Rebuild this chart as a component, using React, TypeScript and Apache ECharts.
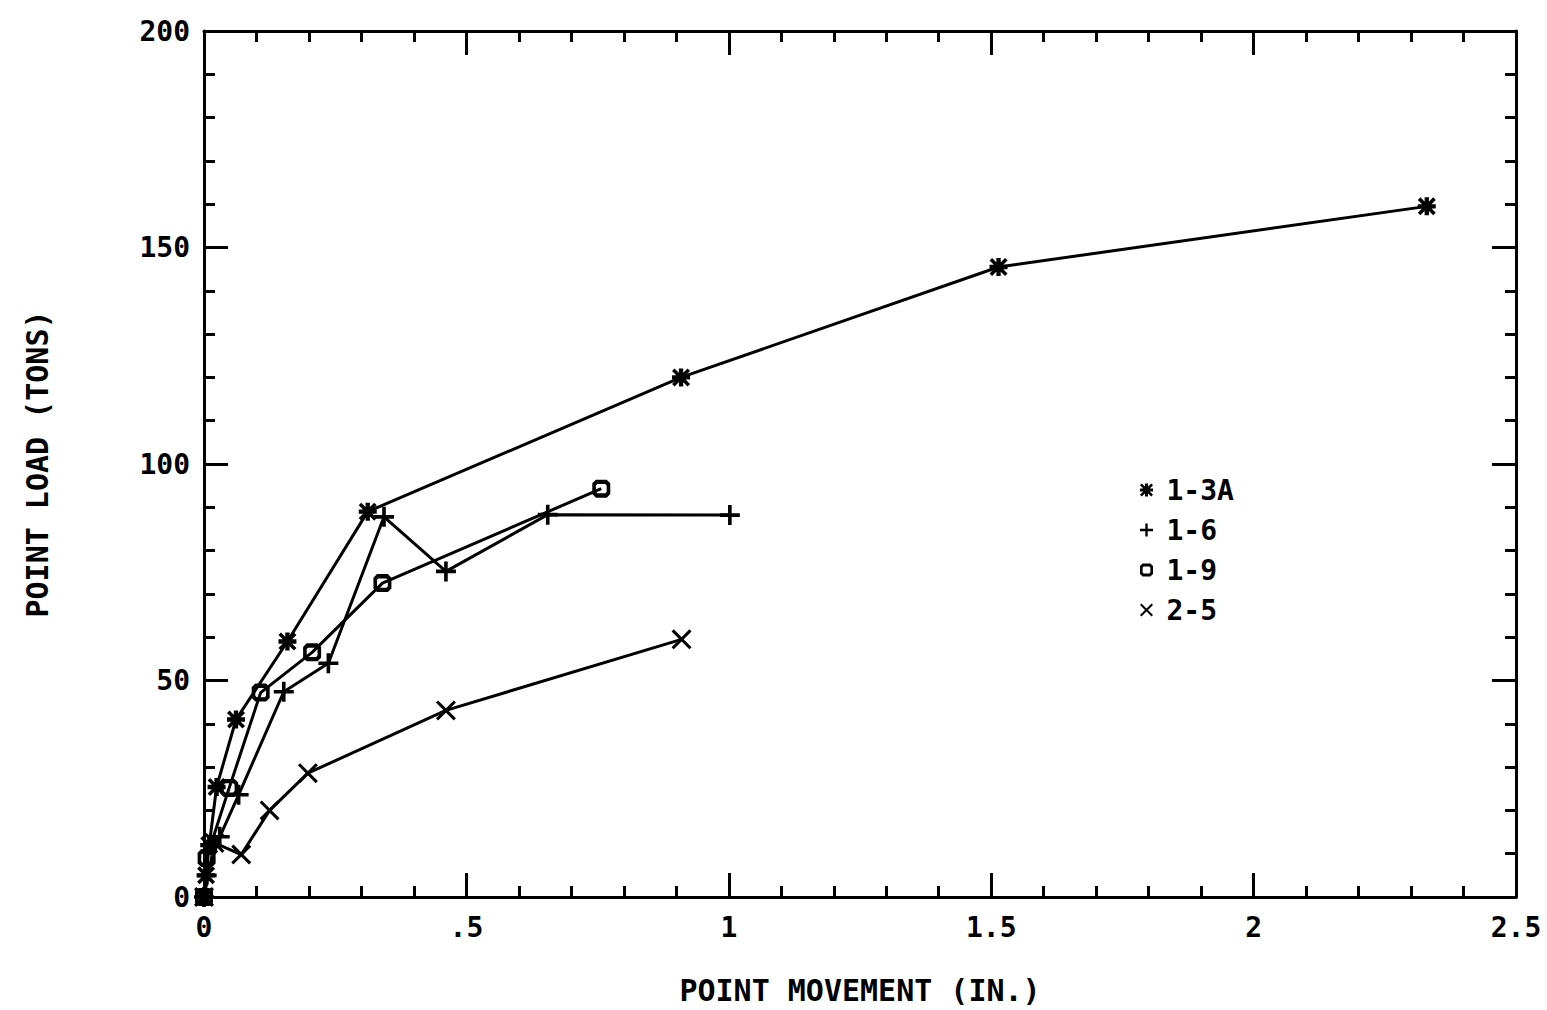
import React, { useEffect, useRef } from "react";
import * as echarts from "echarts";

// ---- data (x = point movement in inches, y = point load in tons) ----
const s13A: [number, number][] = [
  [0, 0], [0.004, 5], [0.01, 12], [0.024, 25.4], [0.061, 41], [0.159, 59],
  [0.312, 89], [0.909, 120], [1.514, 145.5], [2.33, 159.5],
];
const s16: [number, number][] = [
  [0, 0], [0.005, 5], [0.03, 13.9], [0.066, 23.6], [0.152, 47.4], [0.237, 54],
  [0.343, 87.8], [0.461, 75.2], [0.655, 88.3], [1.002, 88.2],
];
const s19: [number, number][] = [
  [0, 0], [0.005, 9], [0.048, 25.2], [0.108, 47.2], [0.206, 56.5], [0.34, 72.5],
  [0.757, 94.3],
];
const s25: [number, number][] = [
  [0, 0], [0.02, 12.5], [0.071, 9.8], [0.125, 20], [0.198, 28.6], [0.461, 43.1],
  [0.91, 59.5],
];
const seriesNames = ["1-3A", "1-6", "1-9", "2-5"];
const xTickLabels = ["0", ".5", "1", "1.5", "2", "2.5"];
const yTickLabels = ["0", "50", "100", "150", "200"];

const ASTER =
  "path://M0,3.8 L10,3.8 L10,6.2 L0,6.2 Z M3.8,0 L6.2,0 L6.2,10 L3.8,10 Z M0,1.4 L1.4,0 L10,8.6 L8.6,10 Z M8.6,0 L10,1.4 L1.4,10 L0,8.6 Z";
const PLUS = "path://M0,4.1 L10,4.1 L10,5.9 L0,5.9 Z M4.1,0 L5.9,0 L5.9,10 L4.1,10 Z";
const SQUARE =
  "path://M2,0 L8,0 L10,2 L10,8 L8,10 L2,10 L0,8 L0,2 Z M2.8,2.4 L2,3.2 L2,6.8 L2.8,7.6 L7.2,7.6 L8,6.8 L8,3.2 L7.2,2.4 Z";
const XMARK =
  "path://M0,1.1 L1.1,0 L10,8.9 L8.9,10 Z M8.9,0 L10,1.1 L1.1,10 L0,8.9 Z";

const FONT = "DejaVu Sans Mono";

export default function App() {
  const ref = useRef<HTMLDivElement>(null);
  useEffect(() => {
    if (!ref.current) return;
    const chart = echarts.init(ref.current, undefined, { renderer: "svg" });
    const axisLine = { show: true, onZero: false, lineStyle: { color: "#000", width: 3 } };
    const tick = { show: true, inside: true, length: 24, lineStyle: { color: "#000", width: 3 } };
    const minor = { show: true, splitNumber: 5, length: 11, lineStyle: { color: "#000", width: 3 } };
    const labelStyle = { color: "#000", fontFamily: FONT, fontWeight: "bold" as const, fontSize: 28 };
    const mk = (name: string, data: [number, number][], symbol: string, size: number) => ({
      type: "line",
      name,
      data,
      xAxisIndex: 0,
      yAxisIndex: 0,
      symbol,
      symbolSize: size,
      symbolKeepAspect: true,
      showAllSymbol: true,
      lineStyle: { color: "#000", width: 3 },
      itemStyle: { color: "#000", borderWidth: 0 },
      clip: false,
    });
    chart.setOption({
      animation: false,
      backgroundColor: "#fff",
      grid: { left: 204, right: 31, top: 31, bottom: 112 },
      legend: {
        orient: "vertical",
        left: 1135,
        top: 471,
        itemWidth: 30,
        itemHeight: 13,
        itemGap: 12,
        symbolKeepAspect: true,
        selectedMode: false,
        textStyle: { ...labelStyle, fontSize: 28, lineHeight: 26 },
        data: [
          { name: seriesNames[0], icon: ASTER },
          { name: seriesNames[1], icon: PLUS },
          { name: seriesNames[2], icon: SQUARE },
          { name: seriesNames[3], icon: XMARK },
        ],
      },
      xAxis: [
        {
          type: "value",
          position: "bottom",
          min: 0,
          max: 2.5,
          interval: 0.5,
          name: "POINT MOVEMENT (IN.)",
          nameLocation: "middle",
          nameGap: 78,
          nameTextStyle: { ...labelStyle, fontSize: 30 },
          axisLine,
          axisTick: tick,
          minorTick: minor,
          splitLine: { show: false },
          axisLabel: {
            ...labelStyle,
            margin: 16,
            formatter: (v: number) => xTickLabels[Math.round(v / 0.5)] ?? "",
          },
        },
        {
          type: "value",
          position: "top",
          min: 0,
          max: 2.5,
          interval: 0.5,
          axisLine,
          axisTick: tick,
          minorTick: minor,
          splitLine: { show: false },
          axisLabel: { show: false },
        },
      ],
      yAxis: [
        {
          type: "value",
          position: "left",
          min: 0,
          max: 200,
          interval: 50,
          name: "POINT LOAD (TONS)",
          nameLocation: "middle",
          nameGap: 152,
          nameTextStyle: { ...labelStyle, fontSize: 30 },
          axisLine,
          axisTick: tick,
          minorTick: minor,
          splitLine: { show: false },
          axisLabel: {
            ...labelStyle,
            margin: 14,
            formatter: (v: number) => yTickLabels[Math.round(v / 50)] ?? "",
          },
        },
        {
          type: "value",
          position: "right",
          min: 0,
          max: 200,
          interval: 50,
          axisLine,
          axisTick: tick,
          minorTick: minor,
          splitLine: { show: false },
          axisLabel: { show: false },
        },
      ],
      series: [
        mk(seriesNames[0], s13A, ASTER, 18),
        mk(seriesNames[1], s16, PLUS, 20),
        mk(seriesNames[2], s19, SQUARE, 18),
        mk(seriesNames[3], s25, XMARK, 20),
      ],
    });
    return () => chart.dispose();
  }, []);
  return (
    <div
      ref={ref}
      style={{ position: "fixed", left: 0, top: 0, width: 1547, height: 1010, background: "#fff" }}
    />
  );
}
